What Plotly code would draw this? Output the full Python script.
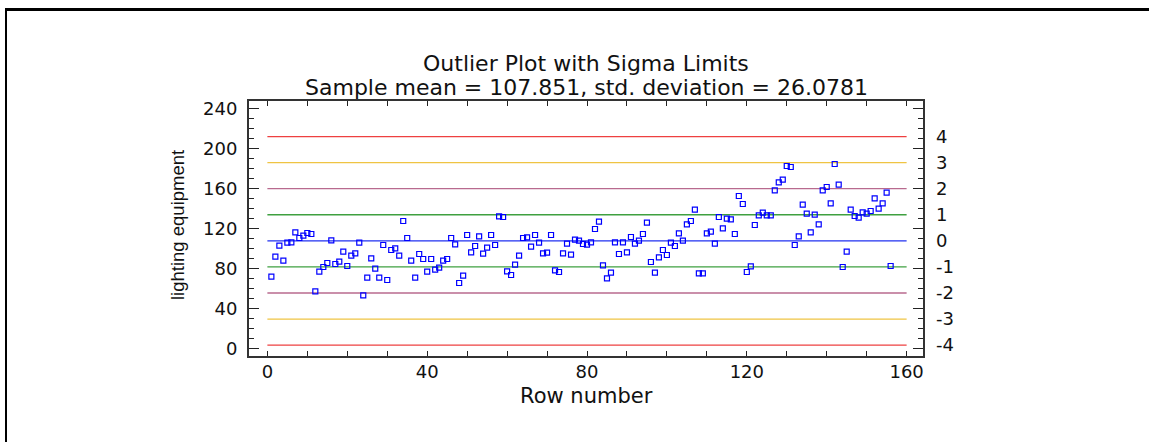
import plotly.graph_objects as go

# ---- data ----
values = [
    72.0, 92.0, 103.0, 88.0, 106.0, 106.4, 116.4, 110.7, 113.0, 115.7,
    114.7, 57.4, 77.0, 81.7, 85.7, 108.4, 84.7, 87.0, 97.0, 82.7,
    93.0, 95.4, 106.0, 53.4, 71.0, 90.4, 80.0, 71.0, 103.7, 68.7,
    98.7, 100.4, 93.0, 127.7, 110.7, 88.0, 71.0, 94.7, 89.7, 77.0,
    89.7, 79.0, 81.0, 88.0, 89.7, 110.7, 104.4, 65.7, 73.0, 113.7,
    96.4, 102.7, 112.4, 95.0, 101.0, 113.7, 103.7, 132.4, 131.7, 77.4,
    73.7, 84.0, 93.0, 110.7, 111.4, 102.0, 113.7, 106.0, 95.4, 96.0,
    113.7, 78.4, 76.7, 95.4, 105.0, 94.0, 109.0, 108.0, 104.7, 104.0,
    106.4, 119.7, 127.0, 83.4, 70.4, 76.0, 106.4, 94.7, 106.4, 96.4,
    111.7, 105.0, 108.0, 114.7, 126.0, 86.7, 76.0, 91.4, 98.7, 93.7,
    106.0, 102.7, 115.4, 108.0, 124.4, 127.7, 139.0, 75.4, 75.4, 115.4,
    117.0, 105.0, 131.7, 120.4, 130.0, 129.4, 114.7, 152.7, 144.7, 76.7,
    82.4, 123.7, 133.4, 136.0, 133.4, 133.4, 158.4, 166.4, 169.0, 182.7,
    181.7, 103.7, 112.4, 144.0, 135.0, 116.4, 134.0, 124.4, 158.4, 161.7,
    145.4, 184.7, 164.0, 81.7, 97.0, 139.0, 132.7, 131.0, 136.4, 135.0,
    137.7, 150.4, 140.0, 145.4, 156.0, 82.7,
]
rows = list(range(1, len(values) + 1))

sample_mean = 107.851
std_dev = 26.0781
sigma_levels = [-4, -3, -2, -1, 0, 1, 2, 3, 4]
sigma_labels = ["-4", "-3", "-2", "-1", "0", "1", "2", "3", "4"]
sigma_colors = {
    4: "#EE4040", 3: "#EFC443", 2: "#B86A8E", 1: "#3FA040", 0: "#2030F0",
}
x_line_span = [0, 160]

title_line1 = "Outlier Plot with Sigma Limits"
title_line2 = "Sample mean = 107.851, std. deviation = 26.0781"
x_title = "Row number"
y_title = "lighting equipment"

# ---- layout geometry ----
W, H = 1149, 442
ML, MR, MT, MB = 249, 226, 101, 86
PW, PH = W - ML - MR, H - MT - MB


def px_x(px):
    return (px - ML) / PW


def px_y(py):
    return (H - MB - py) / PH


FONT = "DejaVu Sans"
TXT = "#111111"

fig = go.Figure()

sigma_values = [sample_mean + k * std_dev for k in sigma_levels]
for k, yv in zip(sigma_levels, sigma_values):
    fig.add_trace(go.Scatter(
        x=x_line_span, y=[yv, yv], mode="lines",
        line=dict(color=sigma_colors[abs(k)], width=1.3),
        hoverinfo="skip", showlegend=False,
    ))

fig.add_trace(go.Scatter(
    x=rows, y=values, mode="markers",
    marker=dict(symbol="square-open", size=5, color="#0000FF",
                line=dict(width=1.2, color="#0000FF")),
    showlegend=False,
))

# invisible trace to carry the right-hand sigma axis
fig.add_trace(go.Scatter(
    x=x_line_span, y=[sigma_values[0], sigma_values[-1]], mode="lines",
    line=dict(width=0), opacity=0, yaxis="y2", hoverinfo="skip",
    showlegend=False,
))

x_range = [-4.6, 164.1]
y_range = [-7.3, 247.7]

fig.update_layout(
    width=W, height=H,
    margin=dict(l=ML, r=MR, t=MT, b=MB, pad=0),
    paper_bgcolor="white", plot_bgcolor="white",
    font=dict(family=FONT, size=18, color=TXT),
    showlegend=False,
    xaxis=dict(
        range=x_range, tick0=0, dtick=40, showgrid=False, zeroline=False,
        showline=True, linecolor="#333333", linewidth=2, mirror="allticks",
        ticks="inside", ticklen=5, tickwidth=1.2, tickcolor="#222222",
        minor=dict(dtick=10, ticks="inside", ticklen=3, tickcolor="#222222"),
        tickfont=dict(family=FONT, size=18, color=TXT),
        ticklabelstandoff=-2,
    ),
    yaxis=dict(
        range=y_range, tick0=0, dtick=40, showgrid=False, zeroline=False,
        showline=True, linecolor="#333333", linewidth=2, mirror="allticks",
        ticks="inside", ticklen=10, tickwidth=1.2, tickcolor="#222222",
        minor=dict(dtick=10, ticks="inside", ticklen=5, tickcolor="#222222"),
        tickfont=dict(family=FONT, size=18, color=TXT),
        ticklabelstandoff=6,
    ),
    yaxis2=dict(
        range=y_range, overlaying="y", side="right", showgrid=False,
        zeroline=False, showline=False, ticks="",
        tickmode="array", tickvals=sigma_values, ticktext=sigma_labels,
        tickfont=dict(family=FONT, size=18, color=TXT),
        ticklabelstandoff=12,
    ),
)

# titles
fig.add_annotation(text=title_line1, xref="paper", yref="paper",
                   x=0.5, y=px_y(63), xanchor="center", yanchor="middle",
                   showarrow=False, font=dict(family=FONT, size=22, color=TXT))
fig.add_annotation(text=title_line2, xref="paper", yref="paper",
                   x=0.5, y=px_y(87), xanchor="center", yanchor="middle",
                   showarrow=False, font=dict(family=FONT, size=22, color=TXT))
fig.add_annotation(text=x_title, xref="paper", yref="paper",
                   x=0.5, y=px_y(396), xanchor="center", yanchor="middle",
                   showarrow=False, font=dict(family=FONT, size=21, color=TXT))
fig.add_annotation(text=y_title, xref="paper", yref="paper",
                   x=px_x(177), y=px_y(225), xanchor="center", yanchor="middle",
                   textangle=-90, showarrow=False,
                   font=dict(family="Liberation Sans", size=18.5, color=TXT))

# outer border (top and left edges of the surrounding frame)
fig.add_shape(type="line", xref="paper", yref="paper",
              x0=px_x(5), x1=px_x(1149), y0=px_y(9.5), y1=px_y(9.5),
              line=dict(color="black", width=3))
fig.add_shape(type="line", xref="paper", yref="paper",
              x0=px_x(6), x1=px_x(6), y0=px_y(8), y1=px_y(442),
              line=dict(color="black", width=2))

fig.write_html(
    "out.html",
    config={"displayModeBar": False},
    post_script="document.body.style.margin='0';document.body.style.overflow='hidden';",
)
